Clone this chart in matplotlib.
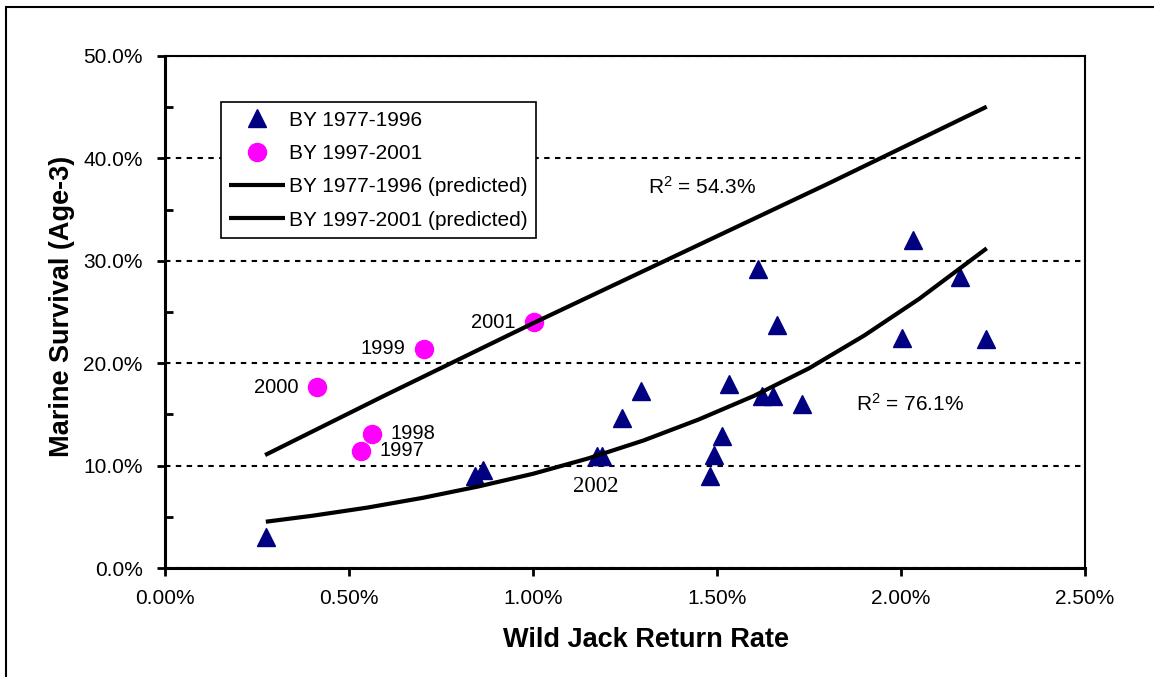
import matplotlib
matplotlib.use("Agg")
import matplotlib.pyplot as plt
from matplotlib.lines import Line2D
from matplotlib.ticker import FuncFormatter, MultipleLocator

# Brood years 1977-1996: wild jack return rate (%) vs. age-3 marine survival (%)
jack_7796 = [0.274, 0.842, 0.863, 1.173, 1.187, 1.243, 1.293, 1.481, 1.493, 1.513,
             1.533, 1.612, 1.621, 1.653, 1.662, 1.732, 2.002, 2.032, 2.160, 2.231]
surv_7796 = [3.06, 9.01, 9.57, 10.94, 10.94, 14.62, 17.29, 8.98, 11.00, 12.89,
             17.94, 29.17, 16.80, 16.80, 23.73, 15.99, 22.43, 32.03, 28.45, 22.33]

# Brood years 1997-2001
years_9701 = ["1997", "1998", "2000", "1999", "2001"]
jack_9701 = [0.533, 0.563, 0.414, 0.703, 1.003]
surv_9701 = [11.46, 13.09, 17.65, 21.39, 23.99]

# Predicted survival curves
pred_x_7796 = [0.274, 0.40, 0.55, 0.70, 0.85, 1.00, 1.15, 1.30, 1.45, 1.60, 1.75, 1.90, 2.05, 2.233]
pred_y_7796 = [4.52, 5.10, 5.90, 6.85, 7.95, 9.20, 10.70, 12.45, 14.50, 16.80, 19.50, 22.70, 26.30, 31.22]
pred_x_9701 = [0.272, 0.60, 1.00, 1.40, 1.80, 2.233]
pred_y_9701 = [11.03, 16.90, 23.90, 30.70, 37.50, 45.05]

r2_7796 = "R$^{2}$ = 76.1%"
r2_9701 = "R$^{2}$ = 54.3%"

x_ticks = [0.0, 0.5, 1.0, 1.5, 2.0, 2.5]
y_ticks = [0, 10, 20, 30, 40, 50]

plt.rcParams["font.family"] = ["Liberation Sans", "DejaVu Sans"]
plt.rcParams["mathtext.fontset"] = "custom"
plt.rcParams["mathtext.rm"] = "Liberation Sans"
plt.rcParams["mathtext.it"] = "Liberation Sans"
plt.rcParams["mathtext.default"] = "rm"

W, H = 1154, 677
fig = plt.figure(figsize=(W / 100, H / 100), dpi=100)
ax = fig.add_axes([165 / W, 1 - 568 / H, 920 / W, 512 / H])

# outer chart border (left and top edges)
fig.add_artist(Line2D([5.7 / W, 5.7 / W], [0, 1 - 6.7 / H], transform=fig.transFigure,
                      color="black", lw=1.5, solid_capstyle="butt"))
fig.add_artist(Line2D([5 / W, 1], [1 - 6.7 / H, 1 - 6.7 / H], transform=fig.transFigure,
                      color="black", lw=1.5, solid_capstyle="butt"))

navy = "#000080"
magenta = "#FF00FF"

h_tri, = ax.plot(jack_7796, surv_7796, linestyle="none", marker="^", ms=12.5,
                 color=navy, mec=navy, zorder=3, label="BY 1977-1996")
h_dot, = ax.plot(jack_9701, surv_9701, linestyle="none", marker="o", ms=13,
                 color=magenta, mec=magenta, zorder=3, label="BY 1997-2001")
h_l1, = ax.plot(pred_x_7796, pred_y_7796, color="black", lw=3, zorder=4,
                solid_capstyle="butt", solid_joinstyle="round", label="BY 1977-1996 (predicted)")
h_l2, = ax.plot(pred_x_9701, pred_y_9701, color="black", lw=3, zorder=4,
                solid_capstyle="butt", solid_joinstyle="round", label="BY 1997-2001 (predicted)")

# year labels next to the 1997-2001 points
for yr, xv, yv in zip(years_9701, jack_9701, surv_9701):
    left = yr in ("1997", "1998")
    ax.annotate(yr, (xv, yv), xytext=(13.5 if left else -13.5, 0), textcoords="offset points",
                ha="left" if left else "right", va="center", fontsize=14.5, zorder=5)

ax.text(1.109, 7.94, "2002", family=["Liberation Serif", "DejaVu Serif"], fontsize=16.5,
        ha="left", va="center")
ax.text(1.3125, 37.2, r2_9701, fontsize=15, ha="left", va="center")
ax.text(1.878, 16.06, r2_7796, fontsize=15, ha="left", va="center")

ax.set_xlim(0, 2.5)
ax.set_ylim(0, 50)
ax.set_xticks(x_ticks)
ax.set_yticks(y_ticks)
ax.yaxis.set_minor_locator(MultipleLocator(5))
ax.xaxis.set_major_formatter(FuncFormatter(lambda v, p: f"{v:.2f}%"))
ax.yaxis.set_major_formatter(FuncFormatter(lambda v, p: f"{v:.1f}%"))
ax.tick_params(axis="both", which="major", direction="out", length=6, width=2,
               labelsize=15, color="black")
ax.tick_params(axis="x", which="major", pad=9)
ax.tick_params(axis="y", which="major", pad=10)
ax.tick_params(axis="y", which="minor", direction="in", length=6, width=2)

ax.grid(axis="y", which="major", color="black", lw=1.5, linestyle=(0, (2.6, 2.6)), zorder=0)
ax.set_axisbelow(True)

for side in ("left", "bottom"):
    ax.spines[side].set_linewidth(2.2)
for side in ("top", "right"):
    ax.spines[side].set_linewidth(1.5)

# axis titles
fig.text(646 / W, 1 - 640 / H, "Wild Jack Return Rate", fontsize=19.5, fontweight="bold",
         ha="center", va="center")
fig.text(62 / W, 1 - 306 / H, "Marine Survival (Age-3)", fontsize=19.5, fontweight="bold",
         ha="center", va="center", rotation=90)

leg = ax.legend(handles=[h_tri, h_dot, h_l1, h_l2], loc="upper left",
                bbox_to_anchor=(56 / 920, (568 - 102.3) / 512), borderaxespad=0,
                fontsize=15, frameon=True, fancybox=False, edgecolor="black",
                framealpha=1, handlelength=2.65, handletextpad=0.2,
                labelspacing=0.69, borderpad=0.4)
leg.get_frame().set_linewidth(1.2)

fig.savefig("out.png", dpi=100)
